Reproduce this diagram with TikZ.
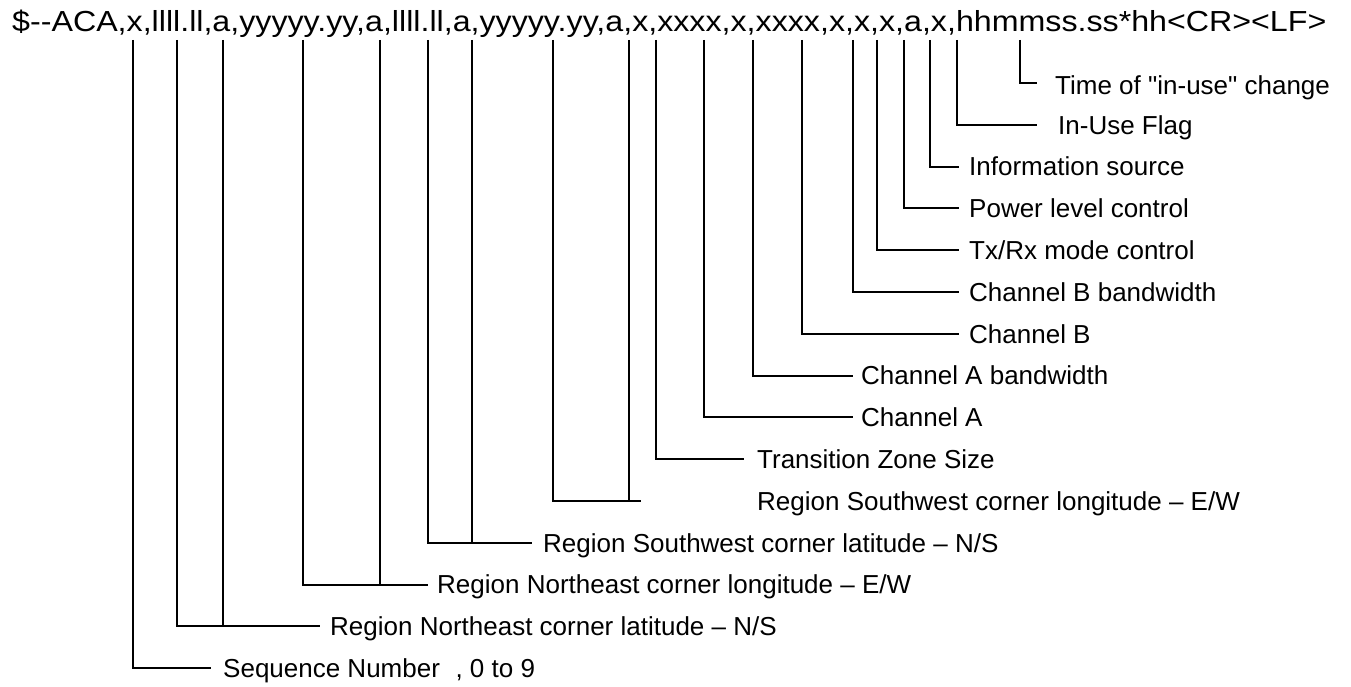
\documentclass[tikz,border=0pt]{standalone}
\usepackage{fontspec}
\setmainfont[Ligatures=TeXOff]{Liberation Sans}
\usepackage{graphicx}
\begin{document}
\begin{tikzpicture}[x=1pt,y=-1pt,
  lbl/.style={anchor=west,inner sep=0pt,text height=18.6pt,text depth=0pt,font=\fontsize{26}{30}\selectfont},
  lead/.style={line width=2pt}]
\useasboundingbox[fill=white] (0,0) rectangle (1351,687);
% header sentence
\node[anchor=base west,inner sep=0pt] (hdr) at (12,32)
  {\fontsize{29}{33}\selectfont\resizebox{1314pt}{\height}{\$--ACA,x,llll.ll,a,yyyyy.yy,a,llll.ll,a,yyyyy.yy,a,x,xxxx,x,xxxx,x,x,x,a,x,hhmmss.ss*hh<CR><LF>}};
% tops of the leaders
\foreach \n/\xx in {t1/133,t2/177,t3/223,t4/303,t5/380,t6/428,t7/472,t8/553,t9/629,t10/656,t11/704,t12/753,t13/802,t14/853,t15/877,t16/904,t17/930,t18/957,t19/1020}
  \coordinate (\n) at (\xx,40);
% leader ends
\coordinate (e0) at (1037,83);
\coordinate (e1) at (1037,124.8);
\coordinate (e2) at (959,166.6);
\coordinate (e3) at (959,208.4);
\coordinate (e4) at (959,250.2);
\coordinate (e5) at (959,292);
\coordinate (e6) at (959,333.8);
\coordinate (e7) at (853,375.6);
\coordinate (e8) at (853,417.4);
\coordinate (e9) at (744,459.2);
\coordinate (e10) at (641,501);
\coordinate (e11) at (532,542.8);
\coordinate (e12) at (428,584.6);
\coordinate (e13) at (320,626.4);
\coordinate (e14) at (211,668.2);
% labels
\node[lbl] (l0) at (1055,85) {Time of "in-use" change};
\node[lbl] (l1) at (1058,124.8) {In-Use Flag};
\node[lbl] (l2) at (969,166.6) {Information source};
\node[lbl] (l3) at (969,208.4) {Power level control};
\node[lbl] (l4) at (969,250.2) {Tx/Rx mode control};
\node[lbl] (l5) at (969,292) {Channel B bandwidth};
\node[lbl] (l6) at (969,333.8) {Channel B};
\node[lbl] (l7) at (861,375.6) {Channel A bandwidth};
\node[lbl] (l8) at (861,417.4) {Channel A};
\node[lbl] (l9) at (757,459.2) {Transition Zone Size};
\node[lbl] (l10) at (757,501) {Region Southwest corner longitude – E/W};
\node[lbl] (l11) at (543,542.8) {Region Southwest corner latitude – N/S};
\node[lbl] (l12) at (437,584.6) {Region Northeast corner longitude – E/W};
\node[lbl] (l13) at (330,626.4) {Region Northeast corner latitude – N/S};
\node[lbl] (l14) at (223,668.2) {Sequence Number\hspace{0.6em}, 0 to 9};
% single leaders
\draw[lead] (t19) |- (e0);
\draw[lead] (t18) |- (e1);
\draw[lead] (t17) |- (e2);
\draw[lead] (t16) |- (e3);
\draw[lead] (t15) |- (e4);
\draw[lead] (t14) |- (e5);
\draw[lead] (t13) |- (e6);
\draw[lead] (t12) |- (e7);
\draw[lead] (t11) |- (e8);
\draw[lead] (t10) |- (e9);
\draw[lead] (t1) |- (e14);
% bracket leaders
\draw[lead] (t8) |- (e10); \draw[lead] (t9) -- (t9 |- e10);
\draw[lead] (t6) |- (e11); \draw[lead] (t7) -- (t7 |- e11);
\draw[lead] (t4) |- (e12); \draw[lead] (t5) -- (t5 |- e12);
\draw[lead] (t2) |- (e13); \draw[lead] (t3) -- (t3 |- e13);
\end{tikzpicture}
\end{document}
